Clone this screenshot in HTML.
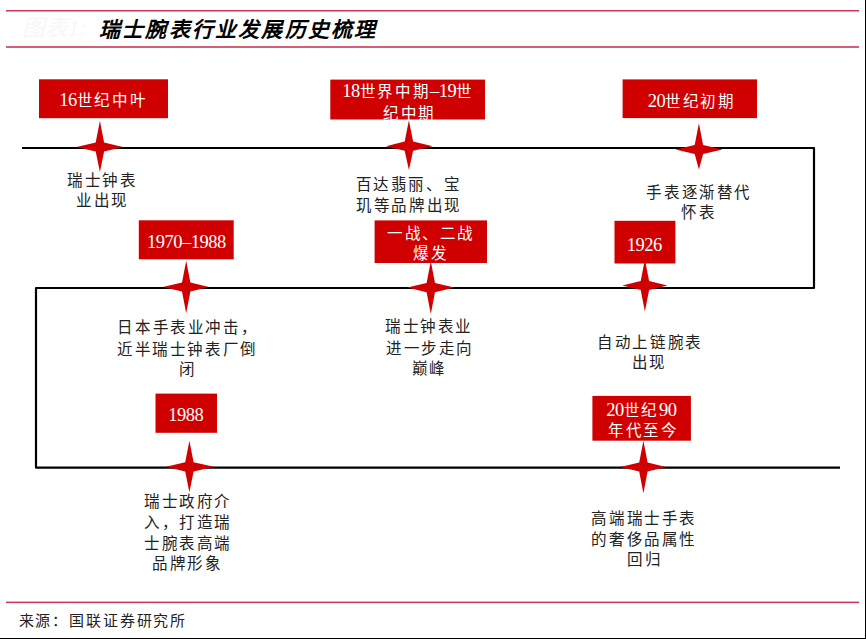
<!DOCTYPE html>
<html lang="zh-CN"><head><meta charset="utf-8">
<style>
html,body{margin:0;padding:0;background:#fff;}
body{width:866px;height:639px;position:relative;overflow:hidden;font-family:"Liberation Serif",serif;}
.t{position:absolute;width:300px;height:20px;text-align:center;white-space:nowrap;font-size:15.5px;line-height:20px;letter-spacing:1.6px;color:#222;font-weight:350;}
.w{color:#fff;}
.n{font-size:18.5px;letter-spacing:-0.5px;}
svg{position:absolute;left:0;top:0;}
</style></head><body>

<svg width="866" height="639" viewBox="0 0 866 639">
<rect x="6" y="10" width="853" height="1.5" fill="#cd3556"/>
<rect x="6" y="46" width="853" height="2" fill="#d65f78"/>
<rect x="6" y="601.6" width="853" height="1.5" fill="#cd3556"/>
<rect x="865" y="0" width="1" height="639" fill="#000"/>
<rect x="0" y="638" width="866" height="1" fill="#000"/>
<path d="M22 148 H814 V288 H36 V467.7 H840" fill="none" stroke="#000" stroke-width="2.2" stroke-linejoin="round"/>
<g fill="#d00000">
<rect x="39.0" y="79.3" width="129.0" height="38.9"/>
<rect x="330.3" y="79.6" width="154.7" height="39.9"/>
<rect x="622.6" y="79.4" width="134.4" height="38.7"/>
<rect x="138.8" y="220.3" width="94.9" height="39.0"/>
<rect x="374.6" y="220.4" width="112.4" height="42.6"/>
<rect x="614.5" y="220.8" width="60.9" height="42.7"/>
<rect x="155.5" y="393.6" width="61.5" height="39.2"/>
<rect x="592.4" y="395.9" width="98.5" height="44.8"/>
<path d="M99.9 120.8 L104.1 142.4 L122.9 147.0 L104.1 151.6 L99.9 172.0 L95.7 151.6 L76.5 147.0 L95.7 142.4Z"/>
<path d="M408.9 120.2 L413.1 141.6 L432.8 146.2 L413.1 150.8 L408.9 170.0 L404.7 150.8 L385.9 146.2 L404.7 141.6Z"/>
<path d="M698.9 123.2 L703.1 144.9 L722.4 149.5 L703.1 154.1 L698.9 169.5 L694.7 154.1 L675.5 149.5 L694.7 144.9Z"/>
<path d="M186.2 260.7 L190.4 282.4 L208.9 287.0 L190.4 291.6 L186.2 313.3 L182.0 291.6 L162.9 287.0 L182.0 282.4Z"/>
<path d="M430.8 261.3 L435.0 283.0 L454.3 287.6 L435.0 292.2 L430.8 313.9 L426.6 292.2 L407.3 287.6 L426.6 283.0Z"/>
<path d="M644.9 259.5 L649.1 280.9 L667.4 285.5 L649.1 290.1 L644.9 311.5 L640.7 290.1 L622.3 285.5 L640.7 280.9Z"/>
<path d="M189.4 440.8 L193.6 462.2 L213.8 466.8 L193.6 471.4 L189.4 492.3 L185.2 471.4 L166.0 466.8 L185.2 462.2Z"/>
<path d="M643.4 440.7 L647.6 462.4 L665.9 467.0 L647.6 471.6 L643.4 493.3 L639.2 471.6 L620.3 467.0 L639.2 462.4Z"/>
</g></svg>
<div class="t" style="left:-47.90px;top:170.55px">瑞士钟表</div>
<div class="t" style="left:-47.40px;top:190.75px">业出现</div>
<div class="t" style="left:258.40px;top:174.85px">百达翡丽、宝</div>
<div class="t" style="left:259.10px;top:195.65px">玑等品牌出现</div>
<div class="t" style="left:549.30px;top:183.20px">手表逐渐替代</div>
<div class="t" style="left:548.80px;top:203.20px">怀表</div>
<div class="t" style="left:37.75px;top:318.00px">日本手表业冲击，</div>
<div class="t" style="left:37.50px;top:339.65px">近半瑞士钟表厂倒</div>
<div class="t" style="left:38.30px;top:359.85px">闭</div>
<div class="t" style="left:279.00px;top:317.45px">瑞士钟表业</div>
<div class="t" style="left:280.00px;top:339.15px">进一步走向</div>
<div class="t" style="left:279.50px;top:359.00px">巅峰</div>
<div class="t" style="left:500.00px;top:332.90px">自动上链腕表</div>
<div class="t" style="left:499.40px;top:353.10px">出现</div>
<div class="t" style="left:37.95px;top:492.25px">瑞士政府介</div>
<div class="t" style="left:37.95px;top:513.45px">入，打造瑞</div>
<div class="t" style="left:37.95px;top:534.20px">士腕表高端</div>
<div class="t" style="left:37.50px;top:554.45px">品牌形象</div>
<div class="t" style="left:494.30px;top:509.10px">高端瑞士手表</div>
<div class="t" style="left:494.30px;top:529.85px">的奢侈品属性</div>
<div class="t" style="left:494.70px;top:549.90px">回归</div>
<div class="t w" style="left:-46.80px;top:90.10px"><span class="n">16</span>世纪中叶</div>
<div class="t w" style="left:258.10px;top:80.80px"><span class="n">18</span>世界中期<span class="n">–19</span>世</div>
<div class="t w" style="left:259.55px;top:103.55px">纪中期</div>
<div class="t w" style="left:541.65px;top:90.65px"><span class="n">20</span>世纪初期</div>
<div class="t w" style="left:36.45px;top:231.50px"><span class="n">1970–1988</span></div>
<div class="t w" style="left:281.10px;top:223.60px">一战、二战</div>
<div class="t w" style="left:280.60px;top:244.05px">爆发</div>
<div class="t w" style="left:494.20px;top:234.55px"><span class="n">1926</span></div>
<div class="t w" style="left:35.80px;top:405.35px"><span class="n">1988</span></div>
<div class="t w" style="left:491.40px;top:399.90px"><span class="n">20</span>世纪<span class="n">90</span></div>
<div class="t w" style="left:493.25px;top:421.15px">年代至今</div>
<div style="position:absolute;left:22px;top:14px;font-size:23px;line-height:30px;font-style:italic;color:#f7f7f7;white-space:nowrap">图表1:</div>
<div style="position:absolute;left:99px;top:15px;font-size:21px;line-height:30px;letter-spacing:2.2px;font-weight:bold;font-style:italic;color:#000;white-space:nowrap">瑞士腕表行业发展历史梳理</div>
<div style="position:absolute;left:18.6px;top:610.5px;font-size:15px;line-height:20px;letter-spacing:1.85px;font-weight:400;color:#222;white-space:nowrap">来源：国联证券研究所</div>
</body></html>
